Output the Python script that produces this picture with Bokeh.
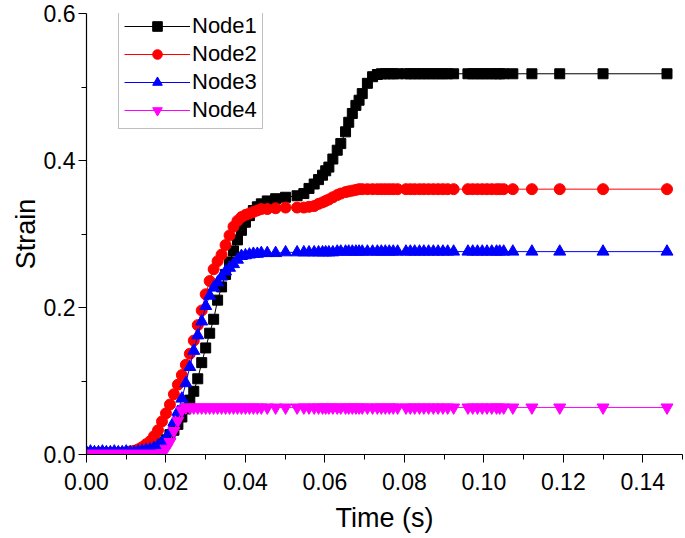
from bokeh.plotting import figure
from bokeh.models import (ColumnDataSource, Range1d, FixedTicker, Legend, LegendItem,
                          PrintfTickFormatter)
from bokeh.embed import file_html
from bokeh.resources import INLINE

# ---- data ----
time_s = [0.000, 0.001, 0.002, 0.003, 0.004, 0.005, 0.006, 0.007, 0.008, 0.009,
          0.010, 0.011, 0.012, 0.013, 0.014, 0.015, 0.016, 0.017, 0.018, 0.019,
          0.020, 0.021, 0.022, 0.023, 0.024, 0.025, 0.026, 0.027, 0.028, 0.029,
          0.030, 0.031, 0.032, 0.033, 0.034, 0.035, 0.036, 0.037, 0.038, 0.039,
          0.040, 0.041, 0.042, 0.043, 0.044, 0.0455, 0.0476, 0.0501, 0.0530, 0.0547,
          0.0560, 0.0573, 0.0584, 0.0594, 0.0602, 0.0610, 0.0620, 0.0631, 0.0640, 0.0652,
          0.0660, 0.0669, 0.0678, 0.0686, 0.0694, 0.0707, 0.0720, 0.0732, 0.0742, 0.0752,
          0.0762, 0.0772, 0.0783, 0.0804, 0.0815, 0.0826, 0.0838, 0.0849, 0.0861, 0.0873,
          0.0885, 0.0897, 0.0909, 0.0924, 0.0960, 0.0972, 0.0984, 0.0996, 0.1008, 0.1020,
          0.1032, 0.1040, 0.1050, 0.1073, 0.1121, 0.1191, 0.1300, 0.1461]

node1 = [0.002, 0.002, 0.002, 0.002, 0.002, 0.002, 0.002, 0.002, 0.002, 0.002,
         0.002, 0.002, 0.002, 0.003, 0.004, 0.005, 0.007, 0.009, 0.012, 0.016,
         0.020, 0.027, 0.033, 0.041, 0.051, 0.062, 0.074, 0.086, 0.103, 0.125,
         0.145, 0.165, 0.184, 0.210, 0.228, 0.245, 0.262, 0.277, 0.292, 0.305,
         0.316, 0.325, 0.332, 0.337, 0.341, 0.345, 0.348, 0.350, 0.352, 0.355,
         0.362, 0.368, 0.374, 0.380, 0.386, 0.391, 0.402, 0.414, 0.423, 0.439,
         0.452, 0.464, 0.475, 0.482, 0.491, 0.505, 0.514, 0.517, 0.518, 0.518,
         0.518, 0.518, 0.518, 0.518, 0.518, 0.518, 0.518, 0.518, 0.518, 0.518,
         0.518, 0.518, 0.518, 0.518, 0.518, 0.518, 0.518, 0.518, 0.518, 0.518,
         0.518, 0.518, 0.518, 0.518, 0.518, 0.518, 0.518, 0.518]

node2 = [0.002, 0.002, 0.002, 0.002, 0.002, 0.002, 0.002, 0.002, 0.002, 0.002,
         0.003, 0.004, 0.005, 0.007, 0.010, 0.014, 0.018, 0.025, 0.033, 0.045,
         0.056, 0.068, 0.082, 0.095, 0.108, 0.122, 0.137, 0.155, 0.176, 0.196,
         0.218, 0.236, 0.252, 0.263, 0.272, 0.285, 0.298, 0.310, 0.318, 0.323,
         0.326, 0.328, 0.330, 0.332, 0.334, 0.334, 0.335, 0.336, 0.336, 0.336,
         0.337, 0.338, 0.341, 0.343, 0.345, 0.347, 0.350, 0.353, 0.355, 0.357,
         0.358, 0.359, 0.360, 0.361, 0.361, 0.361, 0.361, 0.361, 0.361, 0.361,
         0.361, 0.361, 0.361, 0.361, 0.361, 0.361, 0.361, 0.361, 0.361, 0.361,
         0.361, 0.361, 0.361, 0.361, 0.361, 0.361, 0.361, 0.361, 0.361, 0.361,
         0.361, 0.361, 0.361, 0.361, 0.361, 0.361, 0.361, 0.361]

node3 = [0.003, 0.004, 0.003, 0.003, 0.004, 0.003, 0.003, 0.004, 0.003, 0.003,
         0.004, 0.003, 0.003, 0.004, 0.005, 0.006, 0.007, 0.009, 0.012, 0.016,
         0.022, 0.030, 0.044, 0.058, 0.076, 0.097, 0.119, 0.141, 0.162, 0.181,
         0.202, 0.216, 0.227, 0.234, 0.242, 0.249, 0.254, 0.259, 0.265, 0.270,
         0.271, 0.272, 0.273, 0.273, 0.274, 0.274, 0.274, 0.275, 0.275, 0.275,
         0.275, 0.275, 0.275, 0.275, 0.275, 0.275, 0.275, 0.276, 0.276, 0.276,
         0.276, 0.276, 0.276, 0.276, 0.276, 0.276, 0.276, 0.276, 0.276, 0.276,
         0.276, 0.276, 0.276, 0.276, 0.276, 0.276, 0.276, 0.276, 0.276, 0.276,
         0.276, 0.276, 0.276, 0.276, 0.276, 0.276, 0.276, 0.276, 0.276, 0.276,
         0.276, 0.276, 0.276, 0.276, 0.276, 0.276, 0.276, 0.276]

node4 = [0.001, 0.001, 0.001, 0.001, 0.001, 0.001, 0.001, 0.001, 0.001, 0.001,
         0.001, 0.001, 0.001, 0.001, 0.001, 0.001, 0.001, 0.001, 0.001, 0.002,
         0.008, 0.017, 0.032, 0.046, 0.060, 0.064, 0.064, 0.064, 0.064, 0.064,
         0.064, 0.064, 0.064, 0.064, 0.064, 0.064, 0.064, 0.064, 0.064, 0.064,
         0.064, 0.064, 0.064, 0.064, 0.064, 0.064, 0.064, 0.064, 0.064, 0.064,
         0.064, 0.064, 0.064, 0.064, 0.064, 0.064, 0.064, 0.064, 0.064, 0.064,
         0.064, 0.064, 0.064, 0.064, 0.064, 0.064, 0.064, 0.064, 0.064, 0.064,
         0.064, 0.064, 0.064, 0.064, 0.064, 0.064, 0.064, 0.064, 0.064, 0.064,
         0.064, 0.064, 0.064, 0.064, 0.064, 0.064, 0.064, 0.064, 0.064, 0.064,
         0.064, 0.064, 0.064, 0.064, 0.064, 0.064, 0.064, 0.064]

series_names = ["Node1", "Node2", "Node3", "Node4"]
series_colors = ["#000000", "#FF0000", "#0000FF", "#FF00FF"]
series_markers = ["square", "circle", "triangle", "inverted_triangle"]
series_sizes = [10, 11, 12, 12]
series_values = [node1, node2, node3, node4]

x_ticks = [0.00, 0.02, 0.04, 0.06, 0.08, 0.10, 0.12, 0.14]
x_minor = [0.01, 0.03, 0.05, 0.07, 0.09, 0.11, 0.13, 0.15]
y_ticks = [0.0, 0.2, 0.4, 0.6]
y_minor = [0.1, 0.3, 0.5]

FONT = "Liberation Sans"

p = figure(width=685, height=538, output_backend="svg", toolbar_location=None,
           x_range=Range1d(0, 0.15), y_range=Range1d(0, 0.6),
           min_border_left=86, min_border_right=3, min_border_top=13,
           min_border_bottom=84)
p.outline_line_color = None
p.grid.visible = False
p.background_fill_color = "white"

items = []
for name, col, mk, sz, vals in zip(series_names, series_colors, series_markers,
                                   series_sizes, series_values):
    src = ColumnDataSource(dict(x=time_s, y=vals))
    ln = p.line("x", "y", source=src, line_color=col, line_width=1)
    sc = p.scatter("x", "y", source=src, marker=mk, size=sz,
                   fill_color=col, line_color=col)
    items.append(LegendItem(label=name, renderers=[ln, sc]))

for ax, ticks, minor, fmt in ((p.xaxis[0], x_ticks, x_minor, "%.2f"),
                              (p.yaxis[0], y_ticks, y_minor, "%.1f")):
    ax.ticker = FixedTicker(ticks=ticks, minor_ticks=minor)
    ax.formatter = PrintfTickFormatter(format=fmt)
    ax.axis_line_color = "black"
    ax.axis_line_width = 1.2
    ax.major_tick_line_color = "black"
    ax.minor_tick_line_color = "black"
    ax.major_tick_out = 8
    ax.major_tick_in = 0
    ax.minor_tick_out = 5
    ax.minor_tick_in = 0
    ax.major_label_text_font = FONT
    ax.major_label_text_font_size = "23px"
    ax.major_label_text_color = "black"
    ax.axis_label_text_font = FONT
    ax.axis_label_text_font_size = "27px"
    ax.axis_label_text_font_style = "normal"
    ax.axis_label_text_color = "black"

p.xaxis[0].axis_label = "Time (s)"
p.xaxis[0].major_label_standoff = 10
p.xaxis[0].axis_label_standoff = 10
p.yaxis[0].axis_label = "Strain"
p.yaxis[0].major_label_standoff = 3
p.yaxis[0].axis_label_standoff = 0

legend = Legend(items=items, location=(32, 325))
legend.label_text_font = FONT
legend.label_text_font_size = "22px"
legend.label_text_color = "black"
legend.glyph_width = 66
legend.glyph_height = 24
legend.label_standoff = 2
legend.padding = 5
legend.spacing = 2
legend.border_line_color = "#808080"
legend.border_line_width = 1
legend.background_fill_alpha = 1
p.add_layout(legend, "center")

open("out.html", "w").write(file_html(p, INLINE))
